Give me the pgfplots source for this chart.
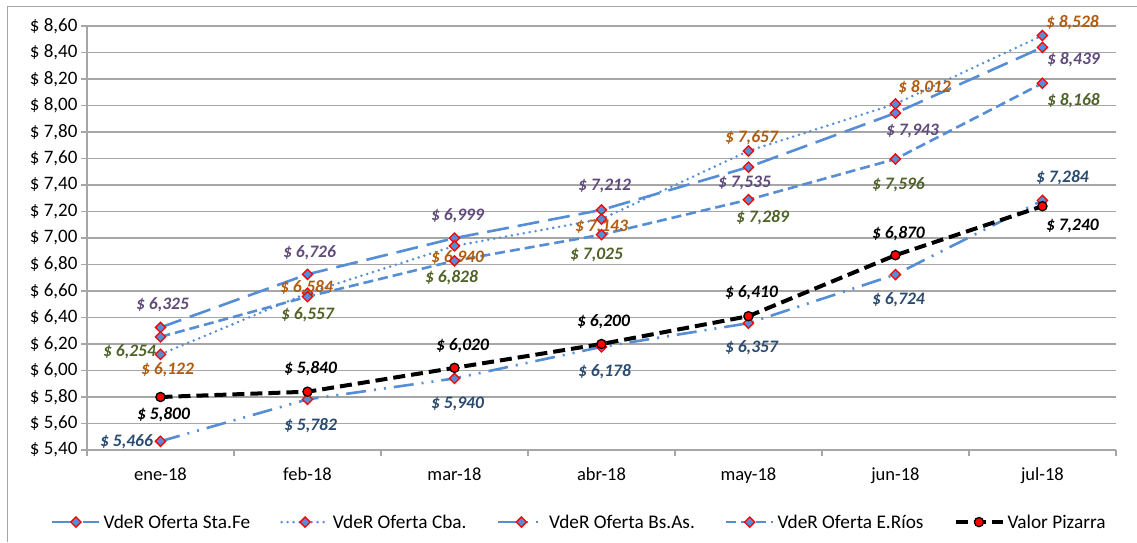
\documentclass[border=0pt]{standalone}
\usepackage{pgfplots}
\pgfplotsset{compat=1.18}
\usepackage{fontspec}
\setmainfont{Carlito}
\definecolor{lblue}{HTML}{558ED5}
\definecolor{cpurple}{HTML}{604A7B}
\definecolor{corange}{HTML}{B05C10}
\definecolor{cnavy}{HTML}{2A4A70}
\definecolor{cgreen}{HTML}{4F6228}
\definecolor{gridc}{HTML}{A6A6A6}

\pgfplotstableread{
x y dx dy
0 6.325 2 23
1 6.726 2 22
2 6.999 3 22
3 7.212 3 24
4 7.535 -4 -16
5 7.943 17 -18
6 8.439 31 -12
}\stafe
\pgfplotstableread{
x y dx dy
0 6.122 7 -15
1 6.584 -1 5
2 6.940 3 -12
3 7.143 0 -8
4 7.657 3 13
5 8.012 29 16
6 8.528 30 13
}\cba
\pgfplotstableread{
x y dx dy
0 5.466 -34 0
1 5.782 3 -26
2 5.940 3 -25
3 6.178 3 -25
4 6.357 3 -25
5 6.724 3 -25
6 7.284 20 23
}\bsas
\pgfplotstableread{
x y dx dy
0 6.254 -31 -15
1 6.557 0 -18
2 6.828 -3 -17
3 7.025 -5 -20
4 7.289 14 -18
5 7.596 3 -26
6 8.168 31 -17
}\erios
\pgfplotstableread{
x y dx dy
0 5.800 3 -18
1 5.840 3 23
2 6.020 8 22
3 6.200 2 22
4 6.410 3 23
5 6.870 3 22
6 7.240 30 -20
}\pizarra

\begin{document}
\begin{tikzpicture}
\pgfplotsset{
  lab/.style={
    nodes near coords={\$~\pgfmathprintnumber[fixed,fixed zerofill,precision=3,use comma]{\pgfplotspointmeta}},
    point meta=y,
    visualization depends on={\thisrow{dx}\as\mydx},
    visualization depends on={\thisrow{dy}\as\mydy},
    every node near coord/.append style={font=\fontsize{17.5}{20}\selectfont\bfseries\itshape, text=#1, anchor=center, xshift=\mydx pt, yshift=\mydy pt, inner sep=0pt}},
  dmark/.style={mark=square*, mark options={solid, rotate=45, fill=lblue, draw=red, line width=1.3pt}, mark size=3.6pt},
}
\begin{axis}[
  scale only axis, width=1029pt, height=424pt,
  xmin=-0.5, xmax=6.5, ymin=5.4, ymax=8.6,
  clip=false,
  /pgf/number format/assume math mode=true,
  axis x line*=bottom, axis y line*=left,
  axis line style={gridc, line width=1.3pt},
  xtick={0,...,6},
  xticklabels={ene-18,feb-18,mar-18,abr-18,may-18,jun-18,jul-18},
  major x tick style={draw=none},
  minor xtick={-0.5,0.5,1.5,2.5,3.5,4.5,5.5,6.5},
  minor x tick style={gridc, line width=1.3pt},
  minor tick length=6pt,
  major tick length=6pt,
  tick align=outside,
  y tick style={gridc, line width=1.3pt},
  ytick={5.4,5.6,5.8,6.0,6.2,6.4,6.6,6.8,7.0,7.2,7.4,7.6,7.8,8.0,8.2,8.4,8.6},
  yticklabel={\$~\pgfmathprintnumber[fixed,fixed zerofill,precision=2,use comma]{\tick}},
  yticklabel style={font=\fontsize{19}{21}\selectfont},
  xticklabel style={font=\fontsize{18.5}{20}\selectfont, yshift=-8pt},
  ymajorgrids,
  major grid style={gridc, line width=1.3pt},
  legend columns=-1,
  legend style={draw=none, at={(0.479,-0.17)}, anchor=center, font=\fontsize{19.3}{21}\selectfont, nodes={inner sep=3pt}, /tikz/every even column/.append style={column sep=27pt}},
  legend image code/.code={\draw[mark repeat=2,mark phase=2,#1] plot coordinates {(0pt,0pt)(23.5pt,0pt)(47pt,0pt)};},
]
\addplot[lblue, line width=2.6pt, dash pattern=on 22pt off 9pt, dmark, lab=cpurple] table[x=x,y=y] {\stafe};
\addlegendentry{VdeR Oferta Sta.Fe}
\addplot[lblue, line width=2.8pt, line cap=round, dash pattern=on 0pt off 6pt, dmark, lab=corange] table[x=x,y=y] {\cba};
\addlegendentry{VdeR Oferta Cba.}
\addplot[lblue, line width=2.6pt, dash pattern=on 20pt off 8pt on 2pt off 8pt on 2pt off 8pt, dmark, lab=cnavy] table[x=x,y=y] {\bsas};
\addlegendentry{VdeR Oferta Bs.As.}
\addplot[lblue, line width=2.6pt, dash pattern=on 10pt off 5pt, dmark, lab=cgreen] table[x=x,y=y] {\erios};
\addlegendentry{VdeR Oferta E.Ríos}
\addplot[black, line width=4pt, dash pattern=on 12pt off 6pt, mark=*, mark options={solid, fill=red, draw=black, line width=1.3pt}, mark size=4.6pt, lab=black] table[x=x,y=y] {\pizarra};
\addlegendentry{Valor Pizarra}
\end{axis}
\draw[gridc, line width=1pt] (-79pt,-92pt) -- (-79pt,443pt) -- (1050pt,443pt);
\pgfresetboundingbox
\useasboundingbox (-87pt,-92pt) rectangle (1050pt,450pt);
\end{tikzpicture}
\end{document}
